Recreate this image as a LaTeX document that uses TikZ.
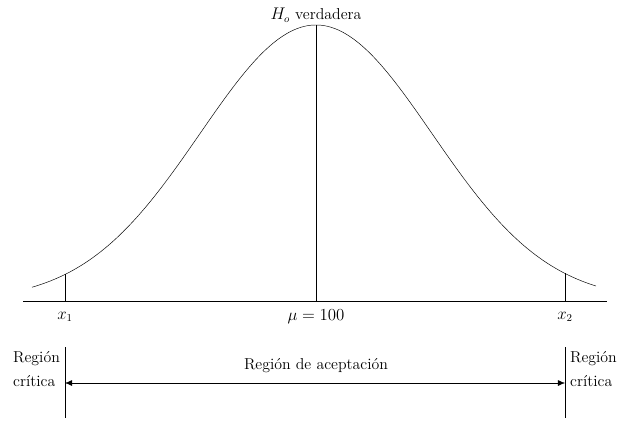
\documentclass[tikz,border=0pt]{standalone}
\usepackage{amsmath, amssymb}
\usepackage{tikz}
\usetikzlibrary{arrows.meta, positioning, calc}

\begin{document}
\begin{tikzpicture}[x=0.03cm, y=-0.03cm, every node/.style={font=\fontsize{13.5}{20}\selectfont}]
        \useasboundingbox (0,0) rectangle (620,420);
        % Axis
        \coordinate (axL) at (23,301);
        \coordinate (axR) at (607,301);
        \draw[thin] (axL) -- (axR);
        % Normal curve
        \draw[thin] plot[domain=32:596, samples=150]
          (\x, {301-276*exp(-0.5*((\x-316)/116)^2)});
        % Mean
        \coordinate (mu) at (316,301);
        \coordinate (peak) at (316,25);
        \draw[semithick] (mu) -- (peak);
        \node[above=-1pt of peak] (hyp) {$H_o$ verdadera};
        \node[below=4pt of mu] (mulab) {$\mu = 100$};
        % Critical values
        \foreach \nm/\xx in {1/65, 2/565}{
          \coordinate (c\nm b) at (\xx,301);
          \coordinate (c\nm t) at (\xx,{301-276*exp(-0.5*((\xx-316)/116)^2)});
          \draw[thin] (c\nm b) -- (c\nm t);
          \node[below=6pt of c\nm b] (x\nm) {$x_{\nm}$};
        }
        % Region limits
        \coordinate (l1t) at (65,347);  \coordinate (l1b) at (65,418);
        \coordinate (l2t) at (565,347); \coordinate (l2b) at (565,418);
        \draw[thin] (l1t) -- (l1b);
        \draw[thin] (l2t) -- (l2b);
        \coordinate (a1) at (65,383);
        \coordinate (a2) at (565,383);
        \draw[thin, {Latex[length=6pt, width=5pt]}-{Latex[length=6pt, width=5pt]}] (a1) -- (a2);
        \node (accept) at (316,366) {Regi\'on de aceptaci\'on};
        \node[anchor=east, align=left] (critL) at (64,369) {Regi\'on\\cr\'itica};
        \node[anchor=west, align=left] (critR) at (566,369) {Regi\'on\\cr\'itica};
      \end{tikzpicture}
\end{document}
